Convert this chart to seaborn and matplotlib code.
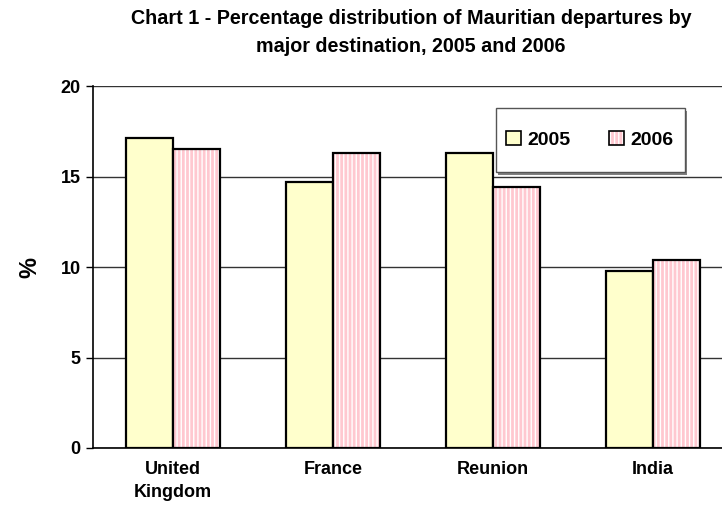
import matplotlib
matplotlib.use("Agg")
import matplotlib.pyplot as plt
import seaborn as sns
import pandas as pd
from matplotlib.patches import Patch, Rectangle

categories = ["United\nKingdom", "France", "Reunion", "India"]
years = ["2005", "2006"]
values_2005 = [17.1, 14.7, 16.3, 9.8]
values_2006 = [16.5, 16.3, 14.4, 10.4]
y_ticks = [0, 5, 10, 15, 20]

df = pd.DataFrame({
    "Destination": categories * 2,
    "Year": [years[0]] * 4 + [years[1]] * 4,
    "Percent": values_2005 + values_2006,
})

sns.set_style("white")
plt.rcParams["font.family"] = ["Liberation Sans", "DejaVu Sans"]
plt.rcParams["font.weight"] = "bold"
plt.rcParams["hatch.linewidth"] = 1.0
for k in ["text.color", "axes.labelcolor", "xtick.color", "ytick.color"]:
    plt.rcParams[k] = "black"

c2005 = "#FFFFCC"
c2006 = "#FFC8D0"

fig = plt.figure(figsize=(7.22, 5.20), dpi=100)
ax = fig.add_axes([93 / 722, 72 / 520, 640 / 722, 362 / 520])

sns.barplot(data=df, x="Destination", y="Percent", hue="Year",
            palette={"2005": c2005, "2006": c2006}, width=0.59,
            edgecolor="black", linewidth=1.6, ax=ax, legend=False,
            saturation=1)

# 2006 bars: white vertical stripes + black outline
for p in ax.containers[1]:
    p.set_edgecolor("white")
    p.set_hatch("||||")
    p.set_linewidth(0)
    ax.add_patch(Rectangle(p.get_xy(), p.get_width(), p.get_height(),
                           fill=False, edgecolor="black", linewidth=1.6,
                           zorder=p.get_zorder() + 0.1))

ax.set_xlim(-0.5, 3.5)
ax.set_ylim(0, 20)
ax.set_yticks(y_ticks)
ax.set_yticklabels([str(t) for t in y_ticks], fontsize=13, fontweight="bold")
ax.set_xticks(range(4))
ax.set_xticklabels(categories, fontsize=13, fontweight="bold", linespacing=1.5)
ax.set_xticks([-0.5, 0.5, 1.5, 2.5, 3.5], minor=True)
ax.tick_params(axis="x", which="major", length=0, pad=9)
ax.tick_params(axis="x", which="minor", length=5, width=1, color="black", direction="out")
ax.tick_params(axis="y", length=5, width=1, color="black", direction="out", pad=4, left=True)
ax.set_xlabel("")
ax.set_ylabel("%", fontsize=17, fontweight="bold", labelpad=14)

ax.yaxis.grid(True, color="#333333", linewidth=1.0)
ax.set_axisbelow(True)
for s in ["top", "right"]:
    ax.spines[s].set_visible(False)
for s in ["left", "bottom"]:
    ax.spines[s].set_color("black")
    ax.spines[s].set_linewidth(1.2)
ax.axhline(20, color="#909090", linewidth=1.2, zorder=0.5)

fig.text(411 / 722, 1 - 9 / 520,
         "Chart 1 - Percentage distribution of Mauritian departures by\nmajor destination, 2005 and 2006",
         ha="center", va="top", fontsize=14.2, fontweight="bold", linespacing=1.6)

# legend frame with shadow
fig.patches.append(Rectangle((498 / 722, (520 - 175) / 520), 189 / 722, 64 / 520,
                             transform=fig.transFigure, facecolor="#808080",
                             edgecolor="none", zorder=5))
fig.patches.append(Rectangle((496 / 722, (520 - 172) / 520), 189 / 722, 64 / 520,
                             transform=fig.transFigure, facecolor="white",
                             edgecolor="#555555", linewidth=1.0, zorder=6))

h2005 = Patch(facecolor=c2005, edgecolor="black", linewidth=1.2)
h2006 = (Patch(facecolor=c2006, edgecolor="white", hatch="||||", linewidth=0),
         Patch(fill=False, edgecolor="black", linewidth=1.2))
leg = fig.legend([h2005, h2006], years, loc="center",
                 bbox_to_anchor=(590 / 722, 1 - 140 / 520), ncol=2,
                 frameon=False, handlelength=0.75, handleheight=0.75,
                 handletextpad=0.35, columnspacing=2.0,
                 prop={"weight": "bold", "size": 14})
leg.set_zorder(7)

fig.savefig("out.png", dpi=100)
